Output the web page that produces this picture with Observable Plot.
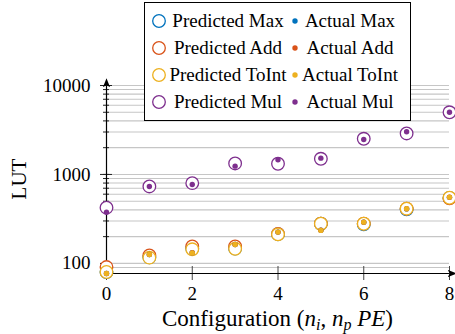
<!DOCTYPE html>
<html><head><meta charset="utf-8">
<script src="https://cdn.jsdelivr.net/npm/d3@7"></script>
<script src="https://cdn.jsdelivr.net/npm/@observablehq/plot@0.6"></script>
<style>
body{margin:0;background:#fff;}
#wrap{position:relative;width:455px;height:334px;}
#legend{position:absolute;left:144px;top:2px;width:267px;height:119px;border:1px solid #000;background:#fff;box-sizing:border-box;}
#legend svg{display:block;}
</style></head><body><div id="wrap"></div>
<script>
// ---- data ----
const configs   = [0, 1, 2, 3, 4, 5, 6, 7, 8];
const predMax   = [80, 117, 147, 147, 213, 279, 275, 405, 545];
const actMax    = [77, 126, 132, 163, 225, 236, 290, 410, 553];
const predAdd   = [91, 123, 155, 155, 215, 280, 280, 412, 540];
const actAdd    = [77, 126, 132, 163, 225, 236, 291, 412, 556];
const predToInt = [80, 116, 144, 146, 212, 279, 279, 412, 547];
const actToInt  = [77, 126, 131, 163, 225, 235, 291, 412, 556];
const predMul   = [423, 733, 798, 1330, 1320, 1500, 2518, 2890, 5000];
const actMul    = [377, 733, 772, 1240, 1463, 1525, 2473, 3020, 5000];
const seriesNames  = ["Max", "Add", "ToInt", "Mul"];
const seriesColors = ["#0072BD", "#D95319", "#EDB120", "#7E2F8E"];
const xTicks = [0, 2, 4, 6, 8];
const yTicks = [100, 1000, 10000];
const gridValues = [90, 100, 200, 300, 400, 500, 600, 700, 800, 900, 1000, 2000, 3000, 4000, 5000, 6000, 7000, 8000, 9000, 10000];
const xDomain = [0, 8];
const yDomain = [77, 10000];

const FONT = "Liberation Serif";
const predArrays = [predMax, predAdd, predToInt, predMul];
const actArrays  = [actMax, actAdd, actToInt, actMul];
const tables = seriesNames.map((name, k) => configs.map((c, i) => ({config: c, series: name, pred: predArrays[k][i], act: actArrays[k][i]})));

const noText = () => "";
const plot = Plot.plot({
  width: 455, height: 334,
  marginTop: 85, marginBottom: 61, marginLeft: 106, marginRight: 6,
  style: {fontFamily: FONT, fontSize: "19px", background: "white", color: "black"},
  x: {domain: xDomain},
  y: {type: "log", domain: yDomain},
  marks: [
    Plot.ruleY(gridValues, {stroke: "#c6c6c6", strokeWidth: 1.1}),
    Plot.axisY({ticks: gridValues, tickSize: 3, tickFormat: noText, label: null, stroke: "#222"}),
    Plot.axisY({ticks: gridValues, tickSize: -3, tickFormat: noText, label: null, stroke: "#222"}),
    Plot.axisY({ticks: yTicks, tickSize: 6, tickPadding: 10, tickFormat: d => String(d), label: null, stroke: "#222"}),
    Plot.axisY({ticks: yTicks, tickSize: -6, tickFormat: noText, label: null, stroke: "#222"}),
    Plot.axisX({ticks: xTicks, tickSize: 7, tickPadding: 6, tickFormat: d => String(d), label: null, stroke: "#444"}),
    Plot.axisX({ticks: xTicks, tickSize: -7, tickFormat: noText, label: null, stroke: "#444"}),
    Plot.link([{x1: xDomain[0], y1: yDomain[0], x2: xDomain[0], y2: yDomain[1]}], {x1: "x1", y1: "y1", x2: "x2", y2: "y2", stroke: "black", strokeWidth: 1.2}),
    Plot.link([{x1: xDomain[0], y1: yDomain[0], x2: xDomain[1], y2: yDomain[0]}], {x1: "x1", y1: "y1", x2: "x2", y2: "y2", stroke: "black", strokeWidth: 1.2}),
    ...tables.map((t, k) => Plot.dot(t, {x: "config", y: "pred", r: 6.3, stroke: seriesColors[k], fill: "white", strokeWidth: 1.3})),
    ...tables.map((t, k) => Plot.dot(t, {x: "config", y: "act", r: 2.7, fill: seriesColors[k], stroke: "none"}))
  ]
});

const wrap = document.getElementById("wrap");
wrap.appendChild(plot);

const svg = d3.select(plot);
// force serif font on tick labels via attributes
svg.selectAll("text").attr("font-family", FONT).attr("font-size", 19);

// arrow heads on axis lines
const defs = svg.insert("defs", ":first-child");
defs.append("marker").attr("id", "arr").attr("viewBox", "0 0 10 10")
  .attr("refX", 2).attr("refY", 5).attr("markerWidth", 9).attr("markerHeight", 9)
  .attr("markerUnits", "userSpaceOnUse").attr("orient", "auto")
  .append("path").attr("d", "M0,1 L10,5 L0,9 L2.5,5 Z").attr("fill", "black");
svg.selectAll('g[aria-label="link"] path').attr("marker-end", "url(#arr)");

// axis labels
svg.append("text").attr("x", (106 + 449) / 2).attr("y", 326).attr("text-anchor", "middle")
  .attr("font-family", FONT).attr("font-size", 23).attr("fill", "black")
  .call(t => {
    t.append("tspan").text("Configuration (");
    t.append("tspan").attr("font-style", "italic").text("n");
    t.append("tspan").attr("font-style", "italic").attr("font-size", 16).attr("dy", 4).text("i");
    t.append("tspan").attr("dy", -4).text(", ");
    t.append("tspan").attr("font-style", "italic").text("n");
    t.append("tspan").attr("font-style", "italic").attr("font-size", 16).attr("dy", 4).text("p");
    t.append("tspan").attr("dy", -4).attr("font-style", "italic").text(" PE");
    t.append("tspan").text(")");
  });
svg.append("text").attr("transform", "translate(26,179) rotate(-90)").attr("text-anchor", "middle")
  .attr("font-family", FONT).attr("font-size", 21).attr("fill", "black")
  .text("LUT");

// legend
const leg = d3.select(wrap).append("div").attr("id", "legend");
const lsvg = leg.append("svg").attr("width", 265).attr("height", 117);
seriesNames.forEach((name, k) => {
  const cy = 18 + k * 27;
  lsvg.append("circle").attr("cx", 14).attr("cy", cy).attr("r", 6.3).attr("fill", "white").attr("stroke", seriesColors[k]).attr("stroke-width", 1.3);
  lsvg.append("text").attr("x", 83).attr("y", cy).attr("dy", "0.32em").attr("text-anchor", "middle")
    .attr("font-family", FONT).attr("font-size", 19).text("Predicted " + name);
  lsvg.append("circle").attr("cx", 150).attr("cy", cy).attr("r", 2.7).attr("fill", seriesColors[k]);
  lsvg.append("text").attr("x", 205).attr("y", cy).attr("dy", "0.32em").attr("text-anchor", "middle")
    .attr("font-family", FONT).attr("font-size", 19).text("Actual " + name);
});
</script>
</body></html>
